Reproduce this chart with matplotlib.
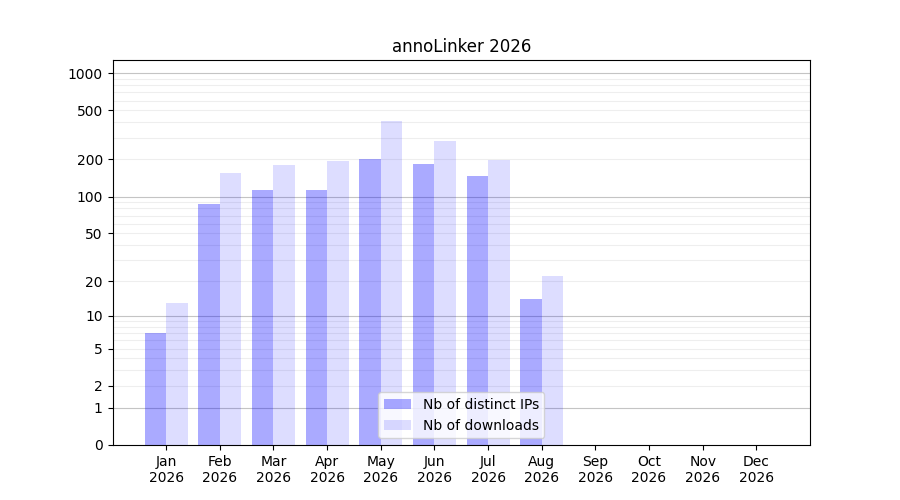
import numpy as np
import matplotlib
matplotlib.use("Agg")
import matplotlib.pyplot as plt

months = ["Jan", "Feb", "Mar", "Apr", "May", "Jun", "Jul", "Aug", "Sep", "Oct", "Nov", "Dec"]
year = "2026"
distinct_ips = [7, 87, 113, 113, 200, 185, 147, 14, 0, 0, 0, 0]
downloads = [13, 155, 180, 195, 410, 285, 198, 22, 0, 0, 0, 0]
yticks = [0, 1, 2, 5, 10, 20, 50, 100, 200, 500, 1000]

fig, ax = plt.subplots(figsize=(9, 5), dpi=100)
ax.set_yscale('function', functions=(lambda v: np.log10(np.clip(v, 0, None) + 1),
                                     lambda v: 10 ** v - 1))
x = np.arange(len(months))
w = 0.4
ax.bar(x - w / 2, distinct_ips, width=w, color='blue', alpha=1 / 3, label='Nb of distinct IPs', zorder=2)
ax.bar(x + w / 2, downloads, width=w, color='blue', alpha=0.135, label='Nb of downloads', zorder=2)

major = [1, 10, 100, 1000]
minor = [m * d for d in [1, 10, 100] for m in range(2, 10)] + [2000]
for v in minor:
    ax.axhline(v, color='#eeeeee', lw=0.8, zorder=1)
for v in major:
    ax.axhline(v, color='#c4c4c4', lw=0.8, zorder=1)

ax.set_yticks(yticks)
ax.set_yticklabels([str(t) for t in yticks])
ax.minorticks_off()
ax.set_ylim(0, 1275)
ax.set_xticks(x)
ax.set_xticklabels([f"{m}\n{year}" for m in months])
ax.set_xlim(-1, 12)
ax.set_title("annoLinker 2026")
ax.legend(loc='lower center')
fig.savefig("out.png", dpi=100)
